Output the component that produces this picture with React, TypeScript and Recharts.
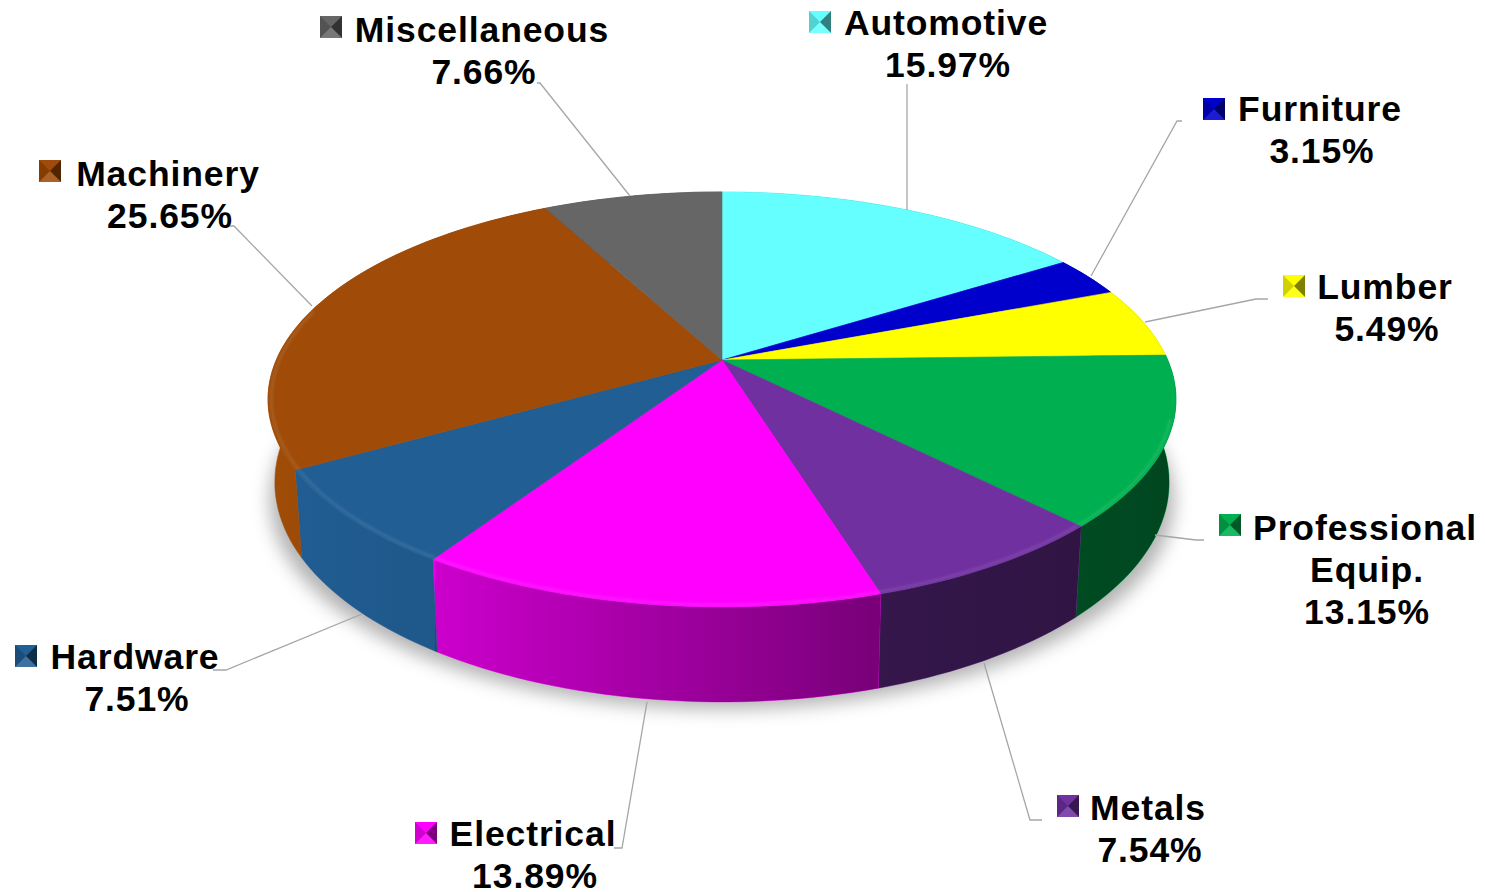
import React from "react";
import { PieChart, Pie } from "recharts";

const categories = [
  "Automotive",
  "Furniture",
  "Lumber",
  "Professional Equip.",
  "Metals",
  "Electrical",
  "Hardware",
  "Machinery",
  "Miscellaneous",
];
const shares = [15.97, 3.15, 5.49, 13.15, 7.54, 13.89, 7.51, 25.65, 7.66];
const colors = [
  "#66ffff",
  "#0000cc",
  "#ffff00",
  "#00b050",
  "#7030a0",
  "#ff00ff",
  "#215e94",
  "#a04c08",
  "#666666",
];

const rows = categories.map((name, i) => ({ name, value: shares[i], fill: colors[i] }));

// label placement, same order as categories: key corner, text centre x, first baseline
const labelSpots = [
  { key: [809, 11], x: 946, y: 35 },
  { key: [1203, 98], x: 1320, y: 121 },
  { key: [1283, 275], x: 1385, y: 299 },
  { key: [1219, 514], x: 1365, y: 540 },
  { key: [1057, 795], x: 1148, y: 820 },
  { key: [415, 822], x: 533, y: 846 },
  { key: [15, 645], x: 135, y: 669 },
  { key: [39, 160], x: 168, y: 186 },
  { key: [320, 16], x: 482, y: 42 },
];
const leaders = [
  "907,84 907,210",
  "1182,121 1177,121 1091,276",
  "1268,299 1256,299 1145,322",
  "1204,540 1196,540 1155,535",
  "1042,820 1030,820 984,663",
  "614,848 622,848 647,702",
  "213,670 226,670 362,614",
  "228,226 234,226 312,306",
  "537,83 540,83 630,196",
];

// the pie lies on a tilted plane: polar angle -> screen, apex at the Pie's cx/cy
const TILT = 0.19;
const RX = 445.7;
const RY = 200;

const rim = (cx: number, cy: number, deg: number, k = 1) => {
  const a = ((90 - deg) * Math.PI) / 180;
  const X = Math.sin(a) * k;
  const Y = Math.cos(a) * k;
  const d = 1 + TILT * Y;
  return { x: cx + (RX * X) / d, y: cy - (RY * Y) / d, Y };
};

const floor = (cx: number, cy: number, deg: number) => {
  const p = rim(cx, cy, deg);
  return { x: cx + (p.x - cx) * 0.985, y: p.y + 80 - 15 * p.Y };
};

const sweep = (from: number, to: number) => {
  const n = Math.max(2, Math.ceil(Math.abs(to - from) / 1.5));
  const out: number[] = [];
  for (let i = 0; i <= n; i++) out.push(from + ((to - from) * i) / n);
  return out;
};

const toPath = (pts: { x: number; y: number }[]) =>
  pts.map((p, i) => `${i ? "L" : "M"}${p.x.toFixed(1)},${p.y.toFixed(1)}`).join(" ");

const WallSector = (props: any) => {
  const { cx, cy, startAngle, endAngle, fill } = props;
  const angles = sweep(startAngle, endAngle);
  const top = angles.map((a) => rim(cx, cy, a));
  const bottom = angles.map((a) => floor(cx, cy, a)).reverse();
  const d = toPath([...top, ...bottom]) + " Z";
  return (
    <g>
      <path d={d} fill={fill} stroke={fill} strokeWidth={0.5} />
      <path d={d} fill="url(#wallShade)" />
    </g>
  );
};

const TopSector = (props: any) => {
  const { cx, cy, startAngle, endAngle, fill } = props;
  const angles = sweep(startAngle, endAngle);
  const d = `M${cx},${cy} ` + toPath(angles.map((a) => rim(cx, cy, a))).replace("M", "L") + " Z";
  // soft highlight along the front of the rim
  const front = angles.filter((a) => {
    const t = ((90 - a) % 360 + 360) % 360;
    return t > 105 && t < 285;
  });
  return (
    <g>
      <path d={d} fill={fill} stroke={fill} strokeWidth={0.6} />
      {front.length > 1 && (
        <path
          d={toPath(front.map((a) => rim(cx, cy, a, 0.993)))}
          fill="none"
          stroke="#fff"
          strokeOpacity={0.09}
          strokeWidth={3}
          filter="url(#soft)"
        />
      )}
    </g>
  );
};

const KeyBox = ({ x, y, fill }: { x: number; y: number; fill: string }) => {
  const s = 22;
  const m = s / 2;
  return (
    <g transform={`translate(${x},${y})`} filter="url(#keySoft)">
      <rect width={s} height={s} fill={fill} />
      <polygon points={`0,0 ${m},${m} 0,${s}`} fill="#000" fillOpacity={0.18} />
      <polygon points={`${s},0 ${m},${m} ${s},${s}`} fill="#000" fillOpacity={0.5} />
      <polygon points={`0,${s} ${m},${m} ${s},${s}`} fill="#fff" fillOpacity={0.12} />
    </g>
  );
};

const renderLabel = (props: any) => {
  const i = props.index;
  const spot = labelSpots[i];
  const lines = [...categories[i].split(" "), shares[i].toFixed(2) + "%"];
  return (
    <g key={i}>
      <polyline points={leaders[i]} fill="none" stroke="#a6a6a6" strokeWidth={1.3} />
      <KeyBox x={spot.key[0]} y={spot.key[1]} fill={colors[i]} />
      {lines.map((t, j) => (
        <text
          key={t}
          x={spot.x + (j ? 2 : 0)}
          y={spot.y + j * 42}
          textAnchor="middle"
          fill="#000"
          fontFamily="'Liberation Sans', Arial, sans-serif"
          fontWeight={700}
          fontSize={35.5}
          letterSpacing={0.9}
        >
          {t}
        </text>
      ))}
    </g>
  );
};

export default function App() {
  return (
    <div style={{ position: "absolute", left: 0, top: 0, width: 1485, height: 892, background: "#fff" }}>
      <PieChart width={1485} height={892} margin={{ top: 0, right: 0, bottom: 0, left: 0 }}>
        <defs>
          <linearGradient id="wallShade" gradientUnits="userSpaceOnUse" x1={268} y1={0} x2={1176} y2={0}>
            <stop offset="0" stopColor="#000" stopOpacity={0} />
            <stop offset="0.184" stopColor="#000" stopOpacity={0.07} />
            <stop offset="0.184" stopColor="#000" stopOpacity={0.2} />
            <stop offset="0.674" stopColor="#000" stopOpacity={0.53} />
            <stop offset="1" stopColor="#000" stopOpacity={0.6} />
          </linearGradient>
          <filter id="soft" x="-10%" y="-10%" width="120%" height="120%">
            <feGaussianBlur stdDeviation={1.2} />
          </filter>
          <filter id="keySoft" x="-10%" y="-10%" width="120%" height="120%">
            <feGaussianBlur stdDeviation={0.5} />
          </filter>
          <filter id="groundBlur" x="-10%" y="-20%" width="120%" height="140%">
            <feGaussianBlur stdDeviation={9} />
          </filter>
        </defs>
        <ellipse cx={722} cy={500} rx={452} ry={209} fill="#000" fillOpacity={0.3} filter="url(#groundBlur)" />
        <Pie
          data={rows}
          dataKey="value"
          cx={722}
          cy={360}
          outerRadius={200}
          startAngle={90}
          endAngle={-270}
          stroke="none"
          shape={WallSector}
          isAnimationActive={false}
        />
        <Pie
          data={rows}
          dataKey="value"
          cx={722}
          cy={360}
          outerRadius={200}
          startAngle={90}
          endAngle={-270}
          stroke="none"
          shape={TopSector}
          label={renderLabel}
          labelLine={false}
          isAnimationActive={false}
        />
      </PieChart>
    </div>
  );
}
